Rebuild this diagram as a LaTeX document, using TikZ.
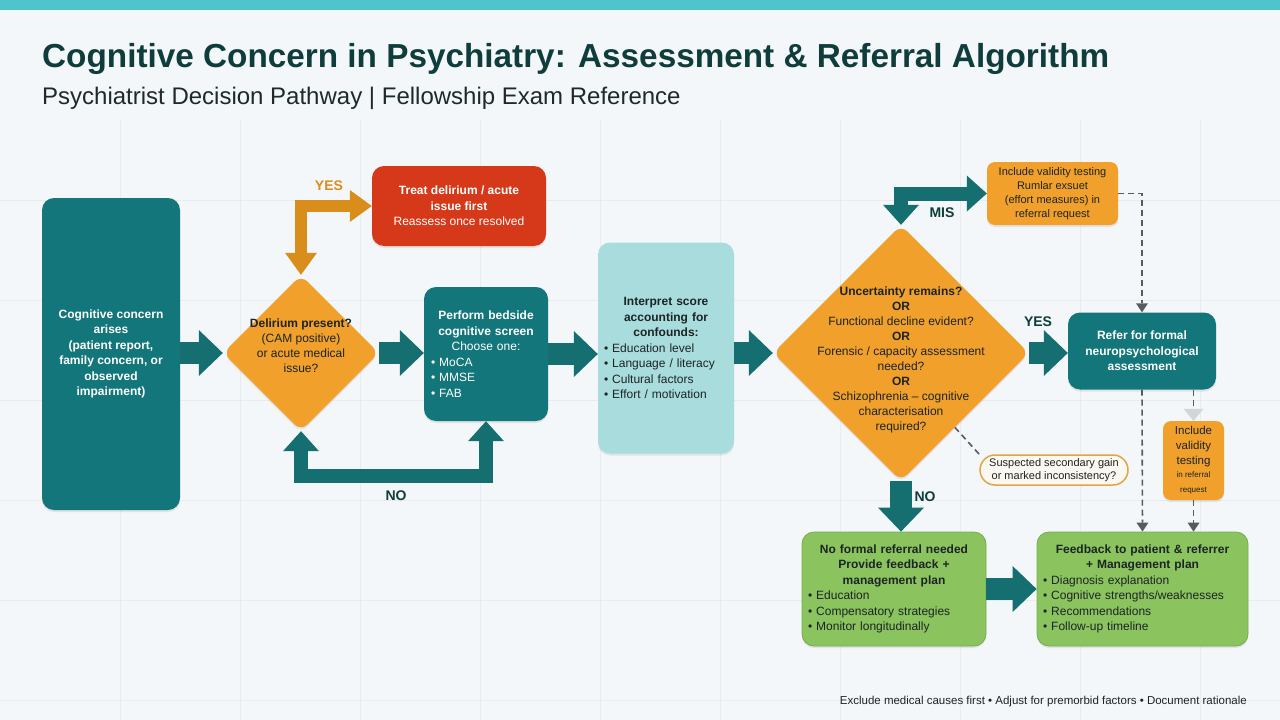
\documentclass[tikz,border=0pt]{standalone}
\usepackage{fontspec}
\setmainfont{Liberation Sans}
\usetikzlibrary{arrows.meta,shapes.geometric,shadows,calc}
\definecolor{bg}{HTML}{F4F7F9}
\definecolor{gridcol}{HTML}{E8ECEF}
\definecolor{topbar}{HTML}{4FC4CC}
\definecolor{titlecol}{HTML}{0F3D3B}
\definecolor{subcol}{HTML}{1E2A2A}
\definecolor{tealbox}{HTML}{13767A}
\definecolor{tealarr}{HTML}{156E70}
\definecolor{orangeD}{HTML}{F0A02B}
\definecolor{orangeA}{HTML}{D98E1C}
\definecolor{redbox}{HTML}{D6391A}
\definecolor{lightteal}{HTML}{A9DCDD}
\definecolor{greenbox}{HTML}{8BC35F}
\definecolor{greenline}{HTML}{78AD4E}
\definecolor{darktext}{HTML}{1C2424}
\definecolor{dashcol}{HTML}{555B5E}
\definecolor{fadecol}{HTML}{D3D6D9}
\definecolor{bubblefill}{HTML}{FBF8F1}
\definecolor{bubbleline}{HTML}{E2A445}
\tikzset{
  shad/.style={drop shadow={opacity=0.16,shadow xshift=0pt,shadow yshift=-2pt}},
  boxbase/.style={rounded corners=12pt, align=center, inner sep=4pt, shad,
    font=\fontsize{12}{15.5}\selectfont},
  tealnode/.style={boxbase, fill=tealbox, text=white},
  rednode/.style={boxbase, fill=redbox, text=white},
  lightnode/.style={boxbase, fill=lightteal, text=darktext},
  orangenode/.style={boxbase, fill=orangeD, text=darktext, rounded corners=8pt},
  greennode/.style={boxbase, fill=greenbox, draw=greenline, line width=0.8pt, text=darktext},
  diamondnode/.style={diamond, aspect=1, fill=orangeD, rounded corners=9pt, shad, inner sep=0pt},
  dtext/.style={align=center, text=darktext, font=\fontsize{12}{15}\selectfont},
  blockarrow/.style={draw=tealarr, line width=22pt,
    -{Triangle[width=46pt,length=24pt,line width=0pt]}},
  yesarrow/.style={draw=orangeA, line width=12pt, line join=miter,
    {Triangle[width=32pt,length=22pt,line width=0pt]}-{Triangle[width=32pt,length=22pt,line width=0pt]}},
  loopteal/.style={draw=tealarr, line width=14pt, line join=miter,
    {Triangle[width=36pt,length=20pt,line width=0pt]}-{Triangle[width=36pt,length=20pt,line width=0pt]}},
  dashconn/.style={draw=dashcol, line width=1.6pt, dash pattern=on 6pt off 4pt,
    -{Triangle[width=12pt,length=9pt,line width=0pt]}},
  fadeconn/.style={draw=dashcol, line width=1.6pt, dash pattern=on 6pt off 4pt,
    -{Triangle[width=20pt,length=12pt,line width=0pt,fill=fadecol]}},
  lbl/.style={font=\bfseries\fontsize{14}{14}\selectfont},
}
\begin{document}
\begin{tikzpicture}[x=1pt,y=-1pt]
\useasboundingbox (0,0) rectangle (1280,720);
\fill[bg] (0,0) rectangle (1280,720);
\foreach \gx in {120,240,...,1200} \draw[gridcol, line width=0.6pt] (\gx,120) -- (\gx,720);
\foreach \gy in {200,300,...,700} \draw[gridcol, line width=0.6pt] (0,\gy) -- (1280,\gy);
\fill[topbar] (0,0) rectangle (1280,10);

% titles
\node[anchor=base west, inner sep=0pt, text=titlecol, font=\bfseries\fontsize{33.3}{36}\selectfont] (title) at (42,67)
  {Cognitive Concern in Psychiatry: Assessment \& Referral Algorithm};
\node[anchor=base west, inner sep=0pt, text=subcol, font=\fontsize{24}{26}\selectfont] (subtitle) at (42,104)
  {Psychiatrist Decision Pathway | Fellowship Exam Reference};

% nodes
\node[tealnode, minimum width=138pt, minimum height=312pt] (start) at (111,354)
  {\bfseries Cognitive concern\\\bfseries arises\\\bfseries (patient report,\\\bfseries family concern, or\\\bfseries observed\\\bfseries impairment)};

\node[diamondnode, minimum width=156pt, minimum height=156pt] (d1) at (301,353) {};
\node[dtext] (d1t) at (301,346) {\textbf{Delirium present?}\\(CAM positive)\\or acute medical\\issue?};

\node[rednode, minimum width=174pt, minimum height=80pt] (treat) at (459,206)
  {\textbf{Treat delirium / acute}\\\textbf{issue first}\\Reassess once resolved};

\node[tealnode, minimum width=124pt, minimum height=134pt, text width=110pt, align=left] (perform) at (486,354)
  {{\centering\textbf{Perform bedside}\\\textbf{cognitive screen}\\Choose one:\par}\raggedright
   • MoCA\\• MMSE\\• FAB};

\node[lightnode, minimum width=136pt, minimum height=211pt, text width=124pt, align=left] (interp) at (666,348)
  {{\centering\textbf{Interpret score}\\\textbf{accounting for}\\\textbf{confounds:}\par}\raggedright
   • Education level\\• Language / literacy\\• Cultural factors\\• Effort / motivation};

\node[diamondnode, minimum width=256pt, minimum height=256pt] (d2) at (901,353) {};
\node[dtext] (d2t) at (901,360) {\textbf{Uncertainty remains?}\\\textbf{OR}\\Functional decline evident?\\\textbf{OR}\\Forensic / capacity assessment\\needed?\\\textbf{OR}\\Schizophrenia – cognitive\\characterisation\\required?};

\node[tealnode, minimum width=148pt, minimum height=77pt] (refer) at (1142,351)
  {\textbf{Refer for formal}\\\textbf{neuropsychological}\\\textbf{assessment}};

\node[orangenode, minimum width=131pt, minimum height=63pt, font=\fontsize{11}{14}\selectfont] (inclA) at (1052.5,193.5)
  {Include validity testing\\Rumlar exsuet\\(effort measures) in\\referral request};

\node[orangenode, minimum width=61pt, minimum height=79pt, inner sep=1pt, font=\fontsize{11.5}{15}\selectfont] (inclB) at (1193.5,460.5)
  {Include\\validity\\testing\\[-2pt]{\fontsize{8}{11}\selectfont in referral}\\{\fontsize{8}{11}\selectfont request}};

\node[draw=bubbleline, fill=bubblefill, line width=1.5pt, rounded corners=15pt, minimum width=148pt, minimum height=30pt,
  align=center, inner sep=2pt, text=darktext, font=\fontsize{11}{13.5}\selectfont] (bubble) at (1054,470)
  {Suspected secondary gain\\or marked inconsistency?};

\node[greennode, minimum width=184pt, minimum height=114pt, text width=172pt, align=left] (noform) at (894,589)
  {{\centering\textbf{No formal referral needed}\\\textbf{Provide feedback +}\\\textbf{management plan}\par}\raggedright
   • Education\\• Compensatory strategies\\• Monitor longitudinally};

\node[greennode, minimum width=211pt, minimum height=114pt, text width=199pt, align=left] (feedback) at (1142.5,589)
  {{\centering\textbf{Feedback to patient \& referrer}\\\textbf{+ Management plan}\par}\raggedright
   • Diagnosis explanation\\• Cognitive strengths/weaknesses\\• Recommendations\\• Follow-up timeline};

% connectors
\draw[blockarrow] (start.east |- d1.west) -- (d1.west);
\draw[blockarrow] (d1.east) -- (d1.east -| perform.west);
\draw[blockarrow] (perform.east) -- (perform.east -| interp.west);
\draw[blockarrow] (d2.west -| interp.east) -- (d2.west);
\draw[blockarrow] (d2.east) -- (d2.east -| refer.west);
\draw[blockarrow] (d2.south) -- (d2.south |- noform.north);
\draw[blockarrow] (noform.east) -- (noform.east -| feedback.west);

\draw[yesarrow] (d1.north) |- (treat.west);
\coordinate (loopy) at (0,476);
\draw[loopteal] (d1.south) -- (d1.south |- loopy) -- (perform.south |- loopy) -- (perform.south);
\draw[loopteal] (d2.north) |- (inclA.west);

\draw[dashconn] (inclA.east) -| (refer.north);
\draw[dashconn] (refer.south) -- (feedback.north);
\draw[fadeconn] (refer.south -| inclB.north) -- (inclB.north);
\draw[dashconn] (inclB.south) -- (inclB.south |- feedback.north);
\draw[draw=dashcol, line width=1.6pt, dash pattern=on 6pt off 4pt] ($(d2.south)!0.42!(d2.east)$) -- (bubble.north west);

% labels
\node[lbl, text=orangeA] (yes1) at (329,186) {YES};
\node[lbl, text=titlecol] (no1) at (396,496) {NO};
\node[lbl, text=titlecol] (mis) at (942,213) {MIS};
\node[lbl, text=titlecol] (yes2) at (1038,322) {YES};
\node[lbl, text=titlecol] (no2) at (925,497) {NO};

\node[anchor=base east, inner sep=0pt, text=darktext, font=\fontsize{11.5}{13}\selectfont] (foot) at (1247,704)
  {Exclude medical causes first • Adjust for premorbid factors • Document rationale};
\end{tikzpicture}
\end{document}
